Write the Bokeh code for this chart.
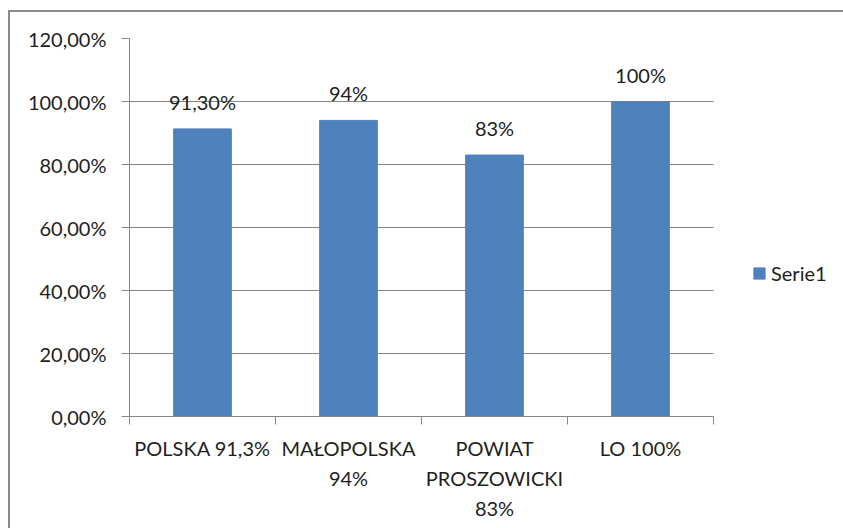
from bokeh.plotting import figure
from bokeh.models import (ColumnDataSource, FixedTicker, CustomJSTickFormatter,
                          LabelSet, Legend, LegendItem, Range1d, BoxAnnotation)
from bokeh.core.properties import value
from bokeh.embed import file_html
from bokeh.resources import INLINE

# ---- data ----
categories = ["POLSKA 91,3%", "MAŁOPOLSKA\n94%", "POWIAT\nPROSZOWICKI\n83%", "LO 100%"]
values = [0.913, 0.94, 0.83, 1.00]
value_labels = ["91,30%", "94%", "83%", "100%"]
series_name = "Serie1"
y_ticks = [0.0, 0.2, 0.4, 0.6, 0.8, 1.0, 1.2]

BAR = "#4F81BD"
GRID = "#868686"
TEXT = "#1e1e1e"
FONT = "Lato"
FRAME = "#8a8a8a"

W, H = 850, 535          # a few px wider/taller than the window; edges stay off-screen
LEFT, RIGHT_BORDER, TOP, BOTTOM = 129, 4, 38, 119
cat_px = 584  # pixel width occupied by the categories
frame_w = W - LEFT - RIGHT_BORDER
n = len(categories)
x_end = n * frame_w / cat_px

xs = [i + 0.5 for i in range(n)]
src = ColumnDataSource(dict(x=xs, top=values, label=value_labels))

page_bg = (f"linear-gradient({FRAME},{FRAME}) 8px 10px / 2px 100% no-repeat, "
           f"linear-gradient({FRAME},{FRAME}) 8px 10px / 100% 2px no-repeat, white")

p = figure(width=W, height=H, output_backend="svg", toolbar_location=None,
           x_range=Range1d(0, x_end), y_range=Range1d(0, 1.2),
           min_border_left=LEFT, min_border_right=RIGHT_BORDER, min_border_top=TOP,
           min_border_bottom=BOTTOM)
try:
    from bokeh.models import GlobalInlineStyleSheet
    p.stylesheets = [GlobalInlineStyleSheet(
        css=f"html, body {{ overflow: hidden; margin: 0; }} html {{ background: {page_bg}; }}")]
    p.border_fill_alpha = 0
except ImportError:
    p.border_fill_color = "white"
p.outline_line_color = None
p.background_fill_color = "white"

# y axis
p.yaxis.ticker = FixedTicker(ticks=y_ticks)
p.yaxis.formatter = CustomJSTickFormatter(code="return (tick*100).toFixed(2).replace('.', ',') + '%';")
p.yaxis.axis_line_color = GRID
p.yaxis.major_tick_line_color = GRID
p.yaxis.major_tick_in = 0
p.yaxis.major_tick_out = 8
p.yaxis.minor_tick_line_color = None
p.yaxis.major_label_standoff = 15
p.yaxis.major_label_text_font = FONT
p.yaxis.major_label_text_font_size = "20px"
p.yaxis.major_label_text_color = TEXT

# x axis
p.xaxis.bounds = (0, n)
p.xaxis.ticker = FixedTicker(ticks=xs, minor_ticks=list(range(n + 1)))
p.xaxis.major_label_overrides = {x: c for x, c in zip(xs, categories)}
p.xaxis.axis_line_color = GRID
p.xaxis.major_tick_line_color = None
p.xaxis.major_tick_in = 0
p.xaxis.major_tick_out = 8
p.xaxis.minor_tick_line_color = GRID
p.xaxis.minor_tick_in = 0
p.xaxis.minor_tick_out = 8
p.xaxis.major_label_standoff = 11
p.xaxis.major_label_text_font = FONT
p.xaxis.major_label_text_font_size = "20px"
p.xaxis.major_label_text_color = TEXT
p.xaxis.major_label_text_line_height = 1.25

p.xgrid.grid_line_color = None
p.ygrid.grid_line_color = GRID
p.ygrid.ticker = FixedTicker(ticks=y_ticks)
ygrid = p.ygrid[0]
if "cross_bounds" in ygrid.properties():
    ygrid.cross_bounds = (0, n)
else:
    p.add_layout(BoxAnnotation(left=n, fill_color="white", fill_alpha=1,
                               line_alpha=0, level="underlay"))

r = p.vbar(x="x", top="top", width=0.395, source=src, fill_color=BAR, line_color=BAR)

labels = LabelSet(x="x", y="top", text="label", source=src, text_align="center",
                  text_baseline="alphabetic", y_offset=19, text_font=value(FONT),
                  text_font_size=value("20px"), text_color=TEXT)
p.add_layout(labels)

legend = Legend(items=[LegendItem(label=series_name, renderers=[r])],
                location=(623, 131), border_line_color=None, background_fill_alpha=0,
                padding=0, margin=0, glyph_width=14, glyph_height=14, label_standoff=5,
                label_text_font=FONT, label_text_font_size="20px", label_text_color=TEXT,
                label_height=14)
p.add_layout(legend)

open("out.html", "w").write(file_html(p, INLINE))
